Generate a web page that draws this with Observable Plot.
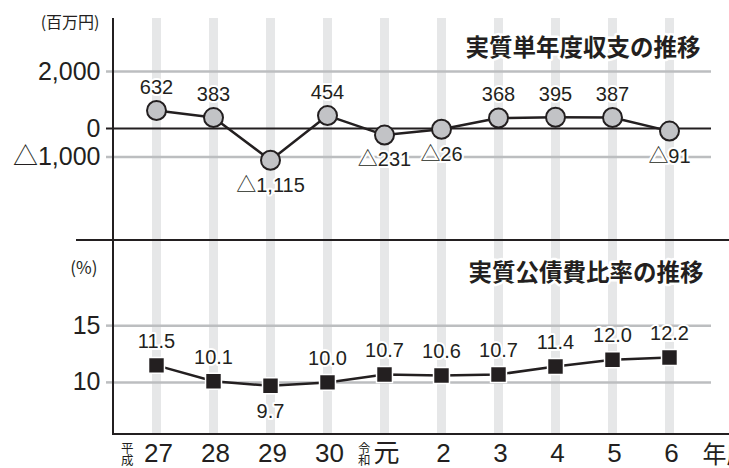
<!DOCTYPE html>
<html><head><meta charset="utf-8">
<script src="https://cdn.jsdelivr.net/npm/d3@7"></script>
<script src="https://cdn.jsdelivr.net/npm/@observablehq/plot@0.6"></script>
<style>
html,body{margin:0;padding:0;background:#fff;}
#chart{position:relative;width:729px;height:468px;overflow:hidden;}
#chart svg{position:absolute;left:0;overflow:visible;background:transparent;}
svg text{paint-order:stroke;}
</style></head><body><div id="chart"></div>
<script>
// ---- data ----
const years = ["27","28","29","30","元","2","3","4","5","6"];
const eraHeisei = ["平\n成"];   // attached to "27"
const eraReiwa = ["令\n和"];    // attached to "元"
const balance = [632, 383, -1115, 454, -231, -26, 368, 395, 387, -91];
const ratio = [11.5, 10.1, 9.7, 10.0, 10.7, 10.6, 10.7, 11.4, 12.0, 12.2];
const balanceGrid = [2000, -1000];
const balanceZero = [0];
const ratioGrid = [15, 10];
const topTitle = "実質単年度収支の推移";
const bottomTitle = "実質公債費比率の推移";
const topUnit = "(百万円)";
const bottomUnit = "(%)";
const xUnit = "年度";

// ---- helpers ----
const ink = "#231f20";
const gridC = "#bcbec0";
const bandC = "#e6e7e8";
const latin = "'Liberation Sans', 'Noto Sans CJK JP', sans-serif";
const cjk = "'Noto Sans CJK JP', sans-serif";
const fmtBal = v => (v < 0 ? "△" : "") + d3.format(",")(Math.abs(v));
const fmtRatio = d3.format(".1f");

const topData = years.map((y, i) => ({year: y, value: balance[i]}));
const botData = years.map((y, i) => ({year: y, value: ratio[i]}));
const ratioMin = d3.min(ratio);

const chart = document.getElementById("chart");

const topPlot = Plot.plot({
  width: 729, height: 240,
  marginLeft: 113, marginRight: 18, marginTop: 18, marginBottom: 0,
  style: {fontFamily: latin, color: ink, background: "transparent"},
  x: {type: "point", domain: years, padding: 0.72, axis: null},
  y: {domain: [-3930, 3860], axis: null},
  marks: [
    Plot.ruleX(years, {x: d => d, stroke: bandC, strokeWidth: 9}),
    Plot.ruleY(balanceGrid, {stroke: gridC, strokeWidth: 2.5}),
    Plot.ruleY(balanceZero, {stroke: ink, strokeWidth: 2}),
    Plot.axisY(balanceGrid, {label: null, tickSize: 7, stroke: gridC, strokeWidth: 2.5, tickPadding: 6, fontSize: 25, fill: ink, tickFormat: fmtBal}),
    Plot.axisY(balanceZero, {label: null, tickSize: 7, stroke: ink, strokeWidth: 2, tickPadding: 6, fontSize: 25, fill: ink, tickFormat: fmtBal}),
    Plot.text([topTitle], {text: d => d, frameAnchor: "top-right", dx: -11, dy: 29.5, textAnchor: "end", lineAnchor: "middle", fontSize: 23.5, fontWeight: "bold", fontFamily: cjk, fill: ink, stroke: "white", strokeWidth: 5}),
    Plot.text([topUnit], {text: d => d, frameAnchor: "top-left", dx: -14, dy: 4.5, textAnchor: "end", lineAnchor: "middle", fontSize: 16, fontFamily: cjk, fill: ink}),
    Plot.line(topData, {x: "year", y: "value", stroke: ink, strokeWidth: 2.5}),
    Plot.dot(topData, {x: "year", y: "value", r: 9.5, fill: "#c2c3c6", stroke: ink, strokeWidth: 2}),
    Plot.text(topData.filter(d => d.value >= 0), {x: "year", y: "value", text: d => fmtBal(d.value), dy: -23, lineAnchor: "middle", fontSize: 20, fill: ink, stroke: "white", strokeWidth: 4}),
    Plot.text(topData.filter(d => d.value < 0), {x: "year", y: "value", text: d => fmtBal(d.value), dy: 25, lineAnchor: "middle", fontSize: 20, fill: ink, stroke: "white", strokeWidth: 4})
  ]
});
topPlot.style.top = "0px";
chart.appendChild(topPlot);

const botPlot = Plot.plot({
  width: 729, height: 228,
  marginLeft: 113, marginRight: 18, marginTop: 0, marginBottom: 34,
  style: {fontFamily: latin, color: ink, background: "transparent"},
  x: {type: "point", domain: years, padding: 0.72},
  y: {domain: [5.41, 22.5], axis: null},
  marks: [
    Plot.ruleX(years, {x: d => d, stroke: bandC, strokeWidth: 9}),
    Plot.ruleY(ratioGrid, {stroke: gridC, strokeWidth: 2.5}),
    Plot.axisY(ratioGrid, {label: null, tickSize: 7, stroke: gridC, strokeWidth: 2.5, tickPadding: 6, fontSize: 25, fill: ink}),
    Plot.axisX({label: null, tickSize: 0, tickPadding: 9, fontSize: 26, fill: ink, dx: 2}),
    Plot.text(eraHeisei, {x: () => years[0], text: d => d, frameAnchor: "bottom", dy: 21, dx: -23, textAnchor: "end", lineAnchor: "middle", lineHeight: 0.95, fontSize: 12.5, fontFamily: cjk, fill: ink}),
    Plot.text(eraReiwa, {x: () => years[4], text: d => d, frameAnchor: "bottom", dy: 21, dx: -14, textAnchor: "end", lineAnchor: "middle", lineHeight: 0.95, fontSize: 12.5, fontFamily: cjk, fill: ink}),
    Plot.text([xUnit], {text: d => d, frameAnchor: "bottom-right", dx: -9, dy: 21, textAnchor: "start", lineAnchor: "middle", fontSize: 24, fontFamily: cjk, fill: ink}),
    Plot.text([bottomTitle], {text: d => d, frameAnchor: "top-right", dx: -8, dy: 32.5, textAnchor: "end", lineAnchor: "middle", fontSize: 23.5, fontWeight: "bold", fontFamily: cjk, fill: ink, stroke: "white", strokeWidth: 5}),
    Plot.text([bottomUnit], {text: d => d, frameAnchor: "top-left", dx: -16, dy: 28, textAnchor: "end", lineAnchor: "middle", fontSize: 17, fontFamily: cjk, fill: ink}),
    Plot.line(botData, {x: "year", y: "value", stroke: ink, strokeWidth: 2.5}),
    Plot.dot(botData, {x: "year", y: "value", symbol: "square", r: 9, fill: ink, stroke: "white", strokeWidth: 1.5}),
    Plot.text(botData.filter(d => d.value > ratioMin), {x: "year", y: "value", text: d => fmtRatio(d.value), dy: -24, lineAnchor: "middle", fontSize: 20, fill: ink, stroke: "white", strokeWidth: 4}),
    Plot.text(botData.filter(d => d.value === ratioMin), {x: "year", y: "value", text: d => fmtRatio(d.value), dy: 26, lineAnchor: "middle", fontSize: 20, fill: ink, stroke: "white", strokeWidth: 4})
  ]
});
botPlot.style.top = "240px";
chart.appendChild(botPlot);

// ---- axis frame lines (positions from the plots' scales) ----
const tx = topPlot.scale("x").range, ty = topPlot.scale("y").range;
const bx = botPlot.scale("x").range, by = botPlot.scale("y").range;
const ts = d3.select(topPlot), bs = d3.select(botPlot);
ts.append("line").attr("x1", tx[0]).attr("x2", tx[0]).attr("y1", d3.min(ty)).attr("y2", d3.max(ty) + 1)
  .attr("stroke", ink).attr("stroke-width", 2);
bs.append("line").attr("x1", bx[0]).attr("x2", bx[0]).attr("y1", d3.min(by)).attr("y2", d3.max(by))
  .attr("stroke", ink).attr("stroke-width", 2);
// separator between panels
bs.append("line").attr("x1", bx[0] - 37).attr("x2", 729).attr("y1", d3.min(by)).attr("y2", d3.min(by))
  .attr("stroke", ink).attr("stroke-width", 2);
// bottom axis line
bs.append("line").attr("x1", bx[0] - 1).attr("x2", 729).attr("y1", d3.max(by)).attr("y2", d3.max(by))
  .attr("stroke", ink).attr("stroke-width", 2);
</script></body></html>
